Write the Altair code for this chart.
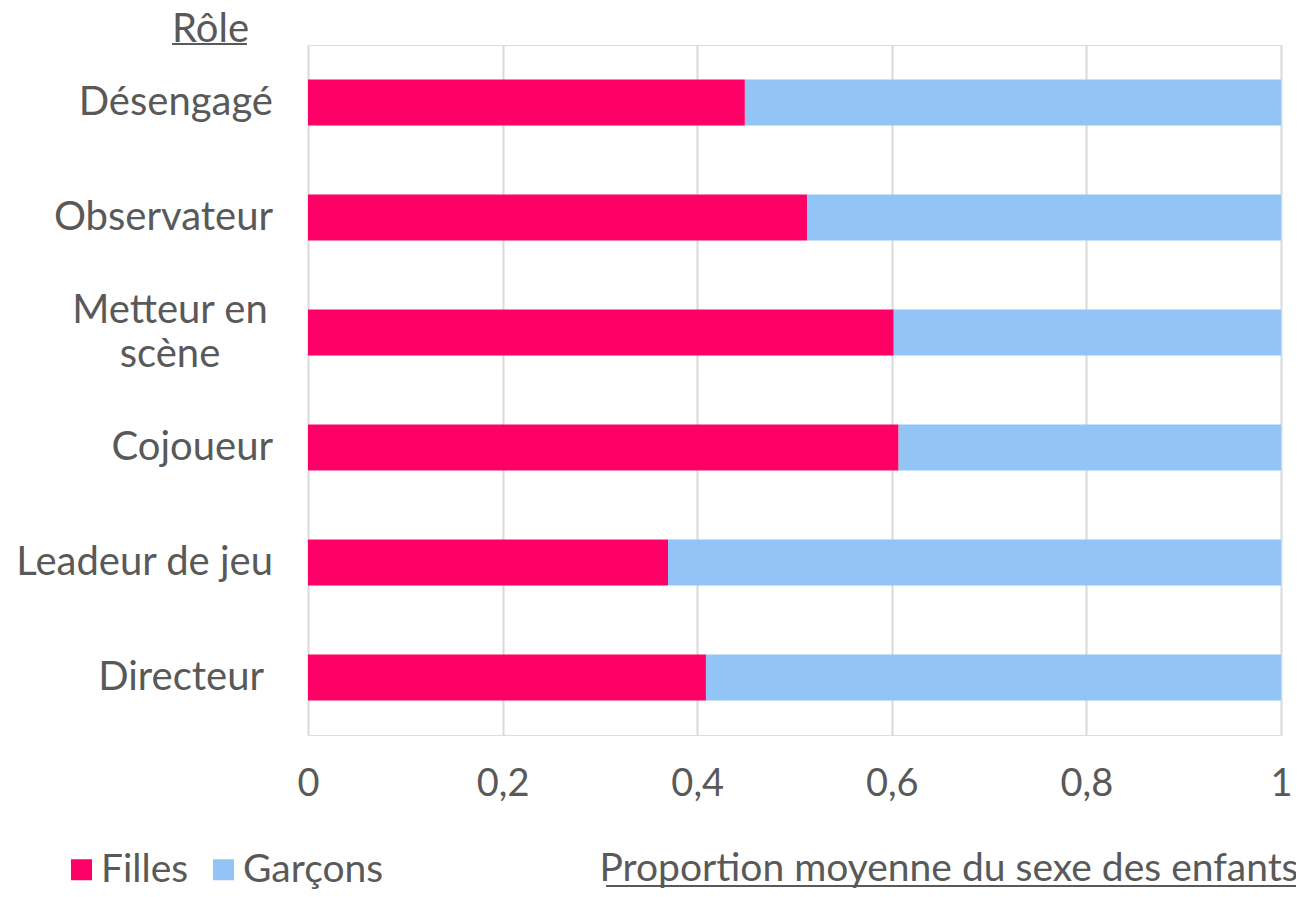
import altair as alt
import pandas as pd

roles = ["Désengagé", "Observateur", "Metteur en|scène", "Cojoueur", "Leadeur de jeu", "Directeur"]
filles = [0.449, 0.513, 0.602, 0.607, 0.370, 0.409]
garcons = [0.551, 0.487, 0.398, 0.393, 0.630, 0.591]
series = ["Filles", "Garçons"]
colors = ["#FF0066", "#92C5F5"]
x_ticks = [0, 0.2, 0.4, 0.6, 0.8, 1]

rows = []
for r, f, g in zip(roles, filles, garcons):
    rows.append({"role": r, "sexe": series[0], "val": f, "ord": 0})
    rows.append({"role": r, "sexe": series[1], "val": g, "ord": 1})
df = pd.DataFrame(rows)
df_roles = pd.DataFrame({"role": roles})

TXT = "#595959"
FONT = "Lato"

y_enc = alt.Y(
    "role:N",
    sort=roles,
    scale=alt.Scale(paddingInner=0.6, paddingOuter=0.3),
    axis=alt.Axis(
        title="Rôle", titleAngle=0, titleX=-98, titleY=-4,
        titleAlign="center", titleBaseline="alphabetic",
        titleFontSize=40, titleFontWeight="normal", titleColor=TXT, titleFont=FONT,
        labels=False, domain=False, ticks=False, grid=False,
    ),
)

bars = alt.Chart(df).mark_bar().encode(
    y=y_enc,
    x=alt.X(
        "val:Q",
        stack="zero",
        scale=alt.Scale(domain=[0, 1], nice=False),
        axis=alt.Axis(
            values=x_ticks,
            labelExpr="replace(format(datum.value, '.1~f'), '.', ',')",
            grid=True, gridColor="#d9d9d9", gridWidth=2,
            domain=False, ticks=False, labelFlush=False,
            labelPadding=30, labelFontSize=38, labelColor=TXT, labelFont=FONT,
            title="Proportion moyenne du sexe des enfants",
            titleX=990, titleY=145, titleAlign="right", titleBaseline="alphabetic",
            titleFontSize=39, titleFontWeight="normal", titleColor=TXT, titleFont=FONT,
        ),
    ),
    color=alt.Color(
        "sexe:N",
        scale=alt.Scale(domain=series, range=colors),
        legend=alt.Legend(
            title=None, orient="none", legendX=-246, legendY=805,
            direction="horizontal", symbolType="square", symbolSize=441,
            symbolStrokeWidth=0, labelFontSize=39, labelOffset=0,
            columnPadding=15, labelColor=TXT, labelFont=FONT, padding=0,
        ),
    ),
    order=alt.Order("ord:Q"),
)

def label_layer(test, align, xpos, dy=0):
    return (
        alt.Chart(df_roles)
        .transform_filter(test)
        .mark_text(align=align, baseline="middle", fontSize=40, font=FONT,
                   color=TXT, lineBreak="|", lineHeight=44, dy=dy)
        .encode(y=alt.Y("role:N", sort=roles), x=alt.value(xpos), text="role:N")
    )

lab_main = label_layer(
    "datum.role != 'Directeur' && datum.role != 'Metteur en|scène'", "right", -35
)
lab_dir = label_layer("datum.role == 'Directeur'", "right", -44)
lab_met = label_layer("datum.role == 'Metteur en|scène'", "center", -138, dy=-22)

one = pd.DataFrame({"a": [0]})
underline_x = alt.Chart(one).mark_rule(color=TXT, strokeWidth=2).encode(
    x=alt.value(298), x2=alt.value(990), y=alt.value(841)
)
underline_y = alt.Chart(one).mark_rule(color=TXT, strokeWidth=2).encode(
    x=alt.value(-136), x2=alt.value(-61), y=alt.value(-1)
)

chart = alt.layer(bars, lab_main, lab_dir, lab_met, underline_x, underline_y).properties(
    width=973, height=690,
    padding={"left": 300, "top": 37, "right": 15, "bottom": 154},
    autosize="none",
).configure_view(stroke=None).configure(font=FONT)

chart.save("out.html", embed_options={"renderer": "svg", "actions": False})
